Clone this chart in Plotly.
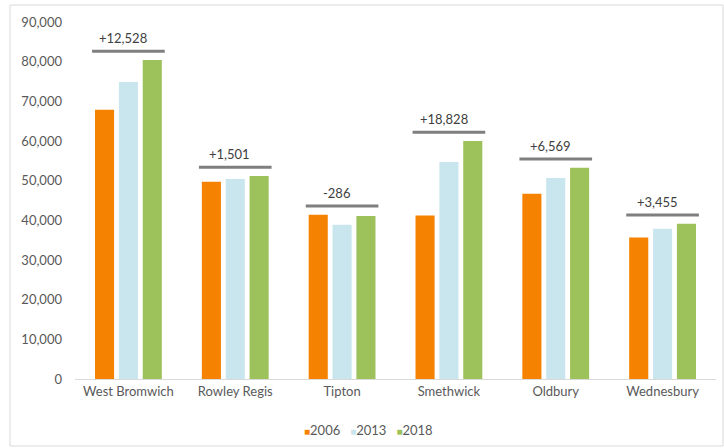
import plotly.graph_objects as go

towns = ["West Bromwich", "Rowley Regis", "Tipton", "Smethwick", "Oldbury", "Wednesbury"]
v2006 = [67900, 49700, 41400, 41200, 46700, 35700]
v2013 = [74900, 50400, 38900, 54700, 50700, 37900]
v2018 = [80428, 51201, 41114, 60028, 53269, 39155]
change_labels = ["+12,528", "+1,501", "-286", "+18,828", "+6,569", "+3,455"]
series_names = ["2006", "2013", "2018"]

colors = {"2006": "#F58200", "2013": "#C9E5EE", "2018": "#9DC15B"}

fig = go.Figure()
for name, vals in zip(series_names, [v2006, v2013, v2018]):
    fig.add_trace(go.Bar(x=towns, y=vals, name=name, marker_color=colors[name],
                         marker_line_width=0, showlegend=False))

shapes = []
annotations = []
for i, t in enumerate(towns):
    top = max(v2006[i], v2013[i], v2018[i]) + 2200
    shapes.append(dict(type="line", xref="x", yref="y", x0=i - 0.34, x1=i + 0.34,
                       y0=top, y1=top, line=dict(color="#7F7F7F", width=3)))
    annotations.append(dict(x=i - 0.05, y=top, xref="x", yref="y", text=change_labels[i],
                            showarrow=False, yanchor="bottom", yshift=3,
                            font=dict(size=13, color="#404040")))

# compact legend as text (coloured squares + labels)
legend_text = "&nbsp;&nbsp;&nbsp;".join(
    f"<span style='color:{colors[n]};font-size:10px'>■</span>{n}" for n in series_names)
annotations.append(dict(xref="paper", yref="paper", x=(368 - 75) / 641,
                        y=-(430 - 379) / 357, text=legend_text, showarrow=False,
                        xanchor="center", yanchor="middle",
                        font=dict(size=13, color="#595959")))

PW, PH = 641, 357
shapes.append(dict(type="rect", xref="paper", yref="paper",
                   x0=(10 - 75) / PW, x1=(723 - 75) / PW,
                   y0=-(446 - 379) / PH, y1=1 + (22 - 5) / PH,
                   line=dict(color="#D9D9D9", width=1)))

fig.update_layout(
    width=724, height=448,
    margin=dict(l=75, r=8, t=22, b=69, autoexpand=False),
    paper_bgcolor="white", plot_bgcolor="white",
    barmode="group", bargap=0.33, bargroupgap=0.2,
    showlegend=False,
    font=dict(family="Lato, Open Sans, sans-serif", size=13, color="#595959"),
    xaxis=dict(showline=True, linecolor="#D9D9D9", linewidth=1, showgrid=False,
               tickfont=dict(size=13, color="#595959"), ticks="", fixedrange=True),
    yaxis=dict(range=[0, 90000], dtick=10000, tickformat=",d", showgrid=False,
               zeroline=False, showline=False, ticklabelstandoff=12,
               tickfont=dict(size=13, color="#595959"), fixedrange=True),
    shapes=shapes,
    annotations=annotations,
)

fig.write_html("out.html")
